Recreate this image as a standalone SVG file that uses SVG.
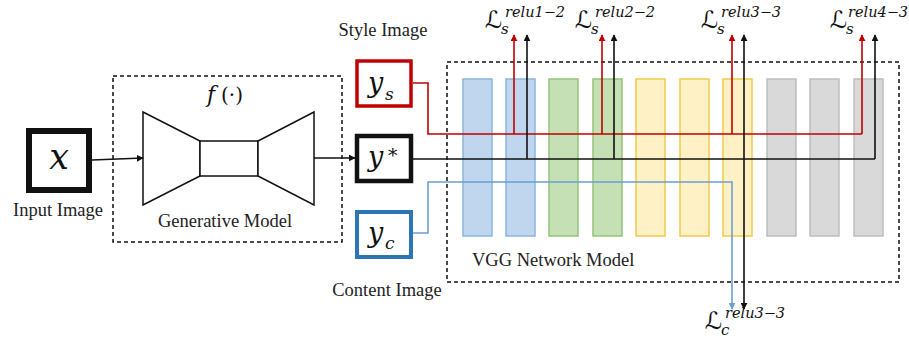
<svg xmlns="http://www.w3.org/2000/svg" width="909" height="341" viewBox="0 0 909 341">
<defs>
<style>
.lbl{font-family:"Liberation Serif",serif;font-size:18.5px;fill:#222}
.m{font-family:"DejaVu Serif",serif;font-style:italic;fill:#111}
.L{font-family:"DejaVu Sans","DejaVu Serif",sans-serif;font-size:24px;fill:#111}
.sup{font-family:"DejaVu Serif",serif;font-style:italic;font-size:14.5px;fill:#111}
.sub{font-family:"DejaVu Serif",serif;font-style:italic;font-size:15px;fill:#111}
.dash{fill:none;stroke:#111;stroke-width:1.5;stroke-dasharray:4 3}
.shape{fill:#fff;stroke:#111;stroke-width:1.5}
.bb{fill:#bfd6ee;stroke:#8fb4de;stroke-width:1.5}
.bg{fill:#c6e0b5;stroke:#94c37a;stroke-width:1.5}
.by{fill:#fff1c6;stroke:#f3c94a;stroke-width:1.5}
.bgr{fill:#d9d9d9;stroke:#bdbdbd;stroke-width:1.5}
.k{fill:none;stroke:#111;stroke-width:1.6}
.r{fill:none;stroke:#c00000;stroke-width:1.6}
.b{fill:none;stroke:#6a9fd4;stroke-width:1.6}
</style>
<marker id="ak" viewBox="0 0 10 10" refX="9" refY="5" markerWidth="7" markerHeight="7" markerUnits="userSpaceOnUse" orient="auto"><path d="M0,0L10,5L0,10z" fill="#111"/></marker>
<marker id="ar" viewBox="0 0 10 10" refX="9" refY="5" markerWidth="7" markerHeight="7" markerUnits="userSpaceOnUse" orient="auto"><path d="M0,0L10,5L0,10z" fill="#c00000"/></marker>
<marker id="ab" viewBox="0 0 10 10" refX="9" refY="5" markerWidth="7" markerHeight="7" markerUnits="userSpaceOnUse" orient="auto"><path d="M0,0L10,5L0,10z" fill="#6a9fd4"/></marker>
</defs>
<rect width="909" height="341" fill="#fff"/>

<g id="generative-model">
<rect class="dash" x="113" y="76" width="229" height="166"/>
<text class="m" x="207" y="102" font-size="22">f</text>
<text x="221" y="102" font-family="DejaVu Serif,serif" font-size="20" fill="#111">(·)</text>
<polygon class="shape" points="143,112 200,141 200,176 143,205"/>
<rect class="shape" x="200" y="141" width="58" height="35"/>
<polygon class="shape" points="314,112 258,141 258,176 314,205"/>
<text class="lbl" x="225" y="227" text-anchor="middle">Generative Model</text>
</g>

<g id="input-image">
<rect x="29" y="131" width="60" height="59" fill="#fff" stroke="#111" stroke-width="6"/>
<text class="m" x="59" y="169" font-size="35" text-anchor="middle">x</text>
<text class="lbl" x="58" y="216" text-anchor="middle">Input Image</text>
</g>

<g id="style-image">
<rect x="357" y="61" width="54" height="45" fill="#fff" stroke="#c00000" stroke-width="3.5"/>
<text class="m" x="368" y="92" font-size="27">y</text>
<text class="m" x="385" y="100" font-size="17">s</text>
<text class="lbl" x="383" y="36" text-anchor="middle">Style Image</text>
</g>

<g id="output-image">
<rect x="357" y="136" width="54" height="45" fill="#fff" stroke="#111" stroke-width="4.5"/>
<text class="m" x="368" y="166" font-size="27">y</text>
<text x="388" y="162" font-family="DejaVu Serif,serif" font-size="19" fill="#111">*</text>
</g>

<g id="content-image">
<rect x="357" y="212" width="54" height="45" fill="#fff" stroke="#2e75b6" stroke-width="4"/>
<text class="m" x="368" y="242" font-size="27">y</text>
<text class="m" x="385" y="249" font-size="17">c</text>
<text class="lbl" x="387" y="296" text-anchor="middle">Content Image</text>
</g>

<g id="vgg-network">
<rect class="dash" x="447" y="62" width="452" height="220"/>
<rect class="bb" x="463" y="79" width="29" height="157"/>
<rect class="bb" x="506" y="79" width="29" height="157"/>
<rect class="bg" x="549" y="79" width="29" height="157"/>
<rect class="bg" x="593" y="79" width="29" height="157"/>
<rect class="by" x="636" y="79" width="29" height="157"/>
<rect class="by" x="680" y="79" width="29" height="157"/>
<rect class="by" x="723" y="79" width="29" height="157"/>
<rect class="bgr" x="767" y="79" width="29" height="157"/>
<rect class="bgr" x="810" y="79" width="29" height="157"/>
<rect class="bgr" x="854" y="79" width="29" height="157"/>
<text class="lbl" x="472" y="266">VGG Network Model</text>
</g>

<g id="connectors">
<path class="k" d="M92,160 L143,158" marker-end="url(#ak)"/>
<path class="k" d="M314,158 L355,158" marker-end="url(#ak)"/>
<path class="r" d="M413,83 H428 V134 H862"/>
<path class="r" d="M514,134 V35" marker-end="url(#ar)"/>
<path class="r" d="M602,134 V35" marker-end="url(#ar)"/>
<path class="r" d="M732,134 V35" marker-end="url(#ar)"/>
<path class="r" d="M862,134 V35" marker-end="url(#ar)"/>
<path class="k" d="M413,159 H875"/>
<path class="k" d="M527,159 V35" marker-end="url(#ak)"/>
<path class="k" d="M614,159 V35" marker-end="url(#ak)"/>
<path class="k" d="M744,159 V35" marker-end="url(#ak)"/>
<path class="k" d="M875,159 V35" marker-end="url(#ak)"/>
<path class="k" d="M744,159 V309" marker-end="url(#ak)"/>
<path class="b" d="M413,233 H428 V182 H732 V309" marker-end="url(#ab)"/>
</g>

<g id="loss-labels">
<text class="L" x="485" y="28">ℒ</text><text class="sub" x="501" y="34">s</text><text class="sup" x="505" y="17">relu1−2</text>
<text class="L" x="575" y="28">ℒ</text><text class="sub" x="591" y="34">s</text><text class="sup" x="595" y="17">relu2−2</text>
<text class="L" x="701" y="28">ℒ</text><text class="sub" x="717" y="34">s</text><text class="sup" x="721" y="17">relu3−3</text>
<text class="L" x="830" y="28">ℒ</text><text class="sub" x="846" y="34">s</text><text class="sup" x="848" y="17">relu4−3</text>
<text class="L" x="705" y="329">ℒ</text><text class="sub" x="721" y="335">c</text><text class="sup" x="725" y="318">relu3−3</text>
</g>
</svg>
